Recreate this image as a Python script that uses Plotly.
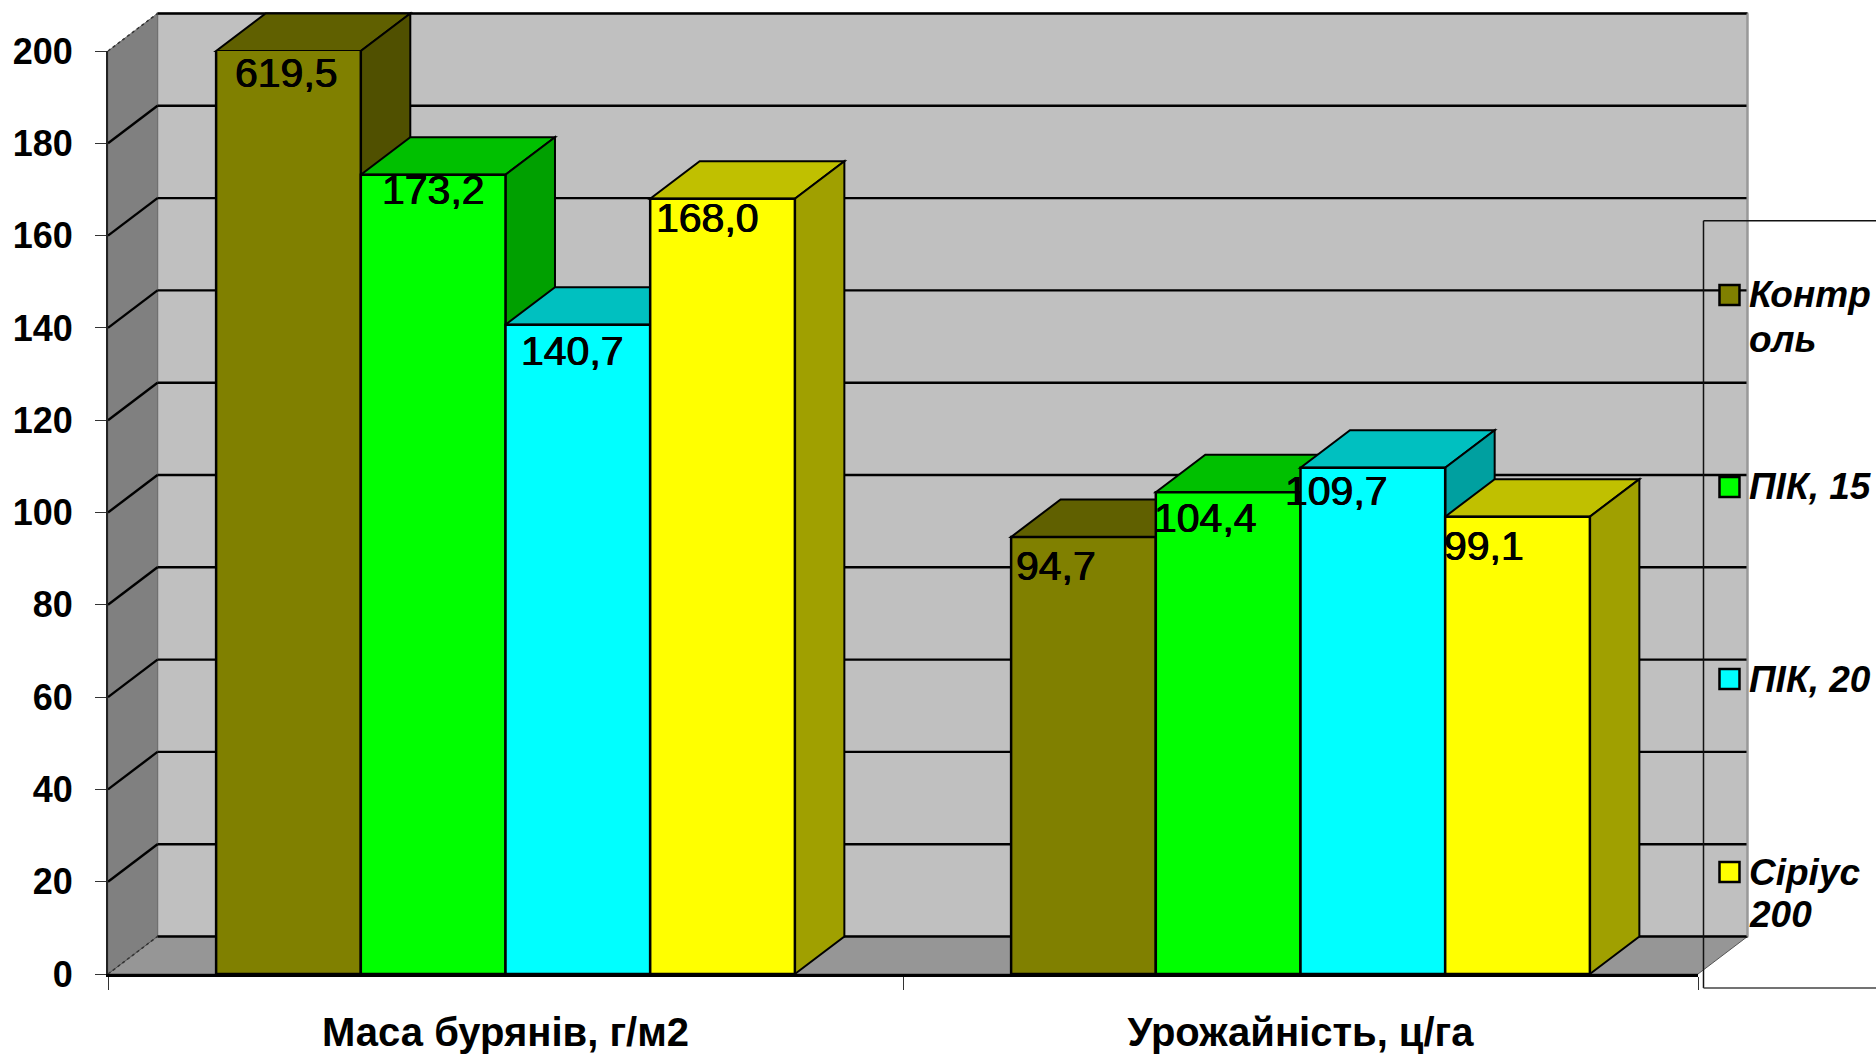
import plotly.graph_objects as go

# ---- data ----
categories = ["Маса бурянів, г/м2", "Урожайність, ц/га"]
series_names = ["Контроль", "ПІК, 15", "ПІК, 20", "Сіріус 200"]
kontrol = [619.5, 94.7]
pik15 = [173.2, 104.4]
pik20 = [140.7, 109.7]
sirius = [168.0, 99.1]
value_labels = [["619,5", "94,7"], ["173,2", "104,4"], ["140,7", "109,7"], ["168,0", "99,1"]]
y_ticks = [0, 20, 40, 60, 80, 100, 120, 140, 160, 180, 200]
legend_lines = [["Контр", "оль"], ["ПІК, 15"], ["ПІК, 20"], ["Сіріус", "200"]]

series_values = [kontrol, pik15, pik20, sirius]

# ---- style / layout ----
W, H = 1876, 1056
L, R, T, B = 107.5, 1698.0, 51.0, 974.0
DX, DY = 49.5, 37.5
YMAX = 200
BARGAP = 0.272
front = ["#808000", "#00FF00", "#00FFFF", "#FFFF00"]
top_c = ["#606000", "#00C000", "#00C0C0", "#C0C000"]
side_c = ["#505000", "#00A000", "#00A0A0", "#A0A000"]
# label offsets in pixels from bar-top centre: [series][category]
lab_dx = [[-1.6, -27], [0, -23], [-5, -36], [-15, -34]]
lab_dy = [[22, 29], [15, 26], [26, 23], [19, 29]]
FONT = "Liberation Sans"
THICK = "0.5px 0 0 black, -0.5px 0 0 black"

pw, ph = R - L, B - T
ax = lambda f, off=0.0: f + off / pw      # axis-fraction plus pixel offset
ay = lambda v, off=0.0: v / YMAX + off / ph


def poly(points, fill, line="black", lw=1.5, dash=None):
    d = "M" + " L".join(f"{x:.5f},{y:.5f}" for x, y in points) + " Z"
    ln = dict(color=line, width=lw)
    if dash:
        ln["dash"] = dash
    return dict(type="path", path=d, xref="paper", yref="paper", fillcolor=fill,
                line=ln, layer="below")


def seg(x0, y0, x1, y1, color="black", lw=2, dash=None, layer="below"):
    ln = dict(color=color, width=lw)
    if dash:
        ln["dash"] = dash
    return dict(type="line", xref="paper", yref="paper", x0=x0, y0=y0, x1=x1, y1=y1,
                line=ln, layer=layer)


shapes = []
# back wall
shapes.append(poly([(ax(0, DX), ay(0, DY)), (ax(1, DX), ay(0, DY)), (ax(1, DX), ay(YMAX, DY)), (ax(0, DX), ay(YMAX, DY))],
                   "#C0C0C0", "#999999", 2))
# side wall
shapes.append(poly([(ax(0), ay(0)), (ax(0, DX), ay(0, DY)), (ax(0, DX), ay(YMAX, DY)), (ax(0), ay(YMAX))],
                   "#808080", "#707070", 1))
# floor
shapes.append(poly([(ax(0), ay(0)), (ax(1), ay(0)), (ax(1, DX), ay(0, DY)), (ax(0, DX), ay(0, DY))],
                   "#969696", "#555555", 1))
# gridlines on side wall + back wall
for t in y_ticks:
    shapes.append(seg(ax(0, DX), ay(t, DY), ax(1, DX), ay(t, DY), "#000000", 2.4))
    if 0 < t < YMAX:
        shapes.append(seg(ax(0), ay(t), ax(0, DX), ay(t, DY), "#000000", 2.4))
shapes.append(seg(ax(0), ay(YMAX), ax(0, DX), ay(YMAX, DY), "#333333", 1.5, "dot"))
shapes.append(seg(ax(0), ay(0), ax(0, DX), ay(0, DY), "#333333", 1.5, "dot"))
shapes.append(seg(ax(1, DX), ay(0, DY), ax(1, DX), ay(YMAX, DY), "#999999", 2))

# 3-D faces of the bars, left to right, derived from the values
n = len(series_values)
bar_w = (1 - BARGAP) / 2 / n
annotations = []
for c in range(len(categories)):
    cx = (c + 0.5) / len(categories)
    for s in range(n):
        v = min(series_values[s][c], YMAX)
        x0 = cx + (s - n / 2) * bar_w
        x1 = x0 + bar_w
        shapes.append(poly([(ax(x0), ay(v)), (ax(x1), ay(v)), (ax(x1, DX), ay(v, DY)), (ax(x0, DX), ay(v, DY))], top_c[s], lw=2))
        shapes.append(poly([(ax(x1), ay(0)), (ax(x1, DX), ay(0, DY)), (ax(x1, DX), ay(v, DY)), (ax(x1), ay(v))], side_c[s], lw=2))
        annotations.append(dict(text=value_labels[s][c], xref="paper", yref="paper",
                                x=ax((x0 + x1) / 2, lab_dx[s][c]), y=ay(v, -lab_dy[s][c]),
                                xanchor="center", yanchor="middle", showarrow=False,
                                font=dict(family=FONT, size=41, color="black", shadow=THICK)))

# legend frame, keys and texts (pixels of the page)
fx = lambda p: (p - L) / pw
fy = lambda p: (B - p) / ph
LEFT, TOP, BOT = 1703.5, 220.7, 988.0
page_right = 1890
shapes.append(seg(fx(LEFT), fy(TOP), fx(page_right), fy(TOP), "#111111", 1.5, layer="above"))
shapes.append(seg(fx(LEFT), fy(TOP), fx(LEFT), fy(BOT), "#111111", 1.5, layer="above"))
shapes.append(seg(fx(LEFT), fy(BOT), fx(page_right), fy(BOT), "#444444", 1.5, layer="above"))
key_y = [295, 487, 679, 872]
text_y = [[294.5, 339], [486], [679], [872, 914]]
for k in range(n):
    shapes.append(dict(type="rect", xref="paper", yref="paper", x0=fx(1719.5), x1=fx(1739.5),
                       y0=fy(key_y[k] + 10), y1=fy(key_y[k] - 10), fillcolor=front[k],
                       line=dict(color="black", width=2.5), layer="above"))
    for line, yy in zip(legend_lines[k], text_y[k]):
        annotations.append(dict(text=f"<b><i>{line}</i></b>", xref="paper", yref="paper",
                                x=fx(1747), y=fy(yy), xanchor="left", yanchor="middle",
                                showarrow=False, font=dict(family=FONT, size=37, color="black")))

fig = go.Figure()
for s in range(n):
    fig.add_trace(go.Bar(name=series_names[s], x=categories, y=series_values[s],
                         marker=dict(color=front[s], line=dict(color="black", width=2.5)),
                         showlegend=False))

fig.update_layout(
    width=W, height=H, autosize=False,
    margin=dict(l=L, r=W - R, t=T, b=H - B, pad=0, autoexpand=False),
    paper_bgcolor="white", plot_bgcolor="rgba(0,0,0,0)",
    barmode="group", bargap=BARGAP, bargroupgap=0,
    shapes=shapes, annotations=annotations, showlegend=False,
    font=dict(family=FONT, color="black"),
)
fig.update_xaxes(type="category", tickson="boundaries", ticks="outside", ticklen=13, tickwidth=1,
                 tickcolor="#333333", showline=True, linecolor="black", linewidth=2.5, showgrid=False,
                 zeroline=False, ticklabelstandoff=21, automargin=False,
                 tickfont=dict(family=FONT, size=40, color="black", weight="bold"))
fig.update_yaxes(range=[0, YMAX], tickvals=y_ticks, ticks="outside", ticklen=11, tickwidth=1,
                 tickcolor="#333333", showline=True, linecolor="#222222", linewidth=2, showgrid=False,
                 zeroline=False, ticklabelstandoff=15, automargin=False,
                 tickfont=dict(family=FONT, size=36, color="black", weight="bold"))

fig.write_html("out.html", config=dict(displayModeBar=False),
               post_script="document.body.style.margin='0';document.body.style.overflow='hidden';")
